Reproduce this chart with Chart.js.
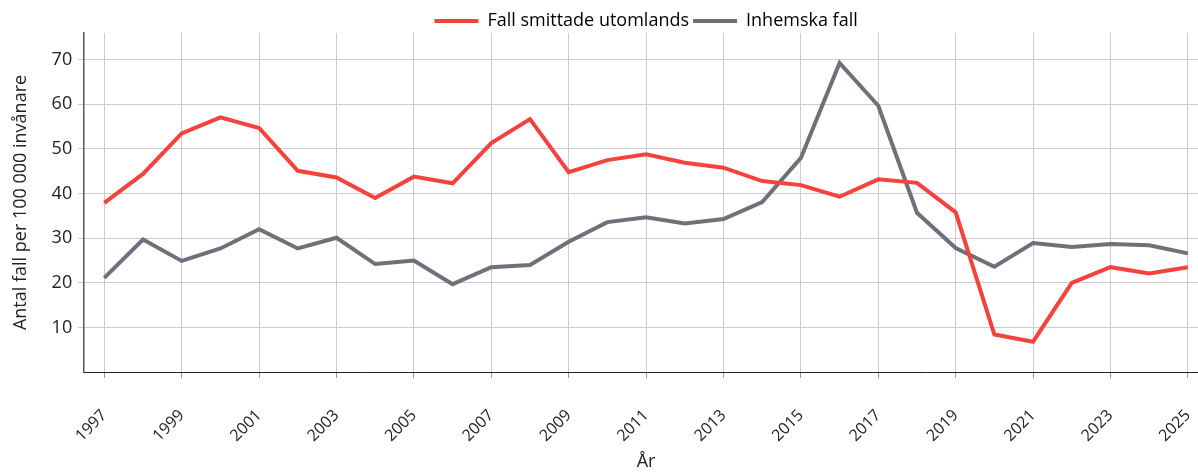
<!DOCTYPE html>
<html>
<head>
<meta charset="utf-8">
<script src="https://cdn.jsdelivr.net/npm/chart.js@4"></script>
<style>
  html, body { margin: 0; padding: 0; background: #fff; overflow: hidden; }
  #wrap { width: 1208px; height: 473px; }
</style>
</head>
<body>
<div id="wrap"><canvas id="chart"></canvas></div>
<script>
// År
const years = [1997, 1998, 1999, 2000, 2001, 2002, 2003, 2004, 2005, 2006,
  2007, 2008, 2009, 2010, 2011, 2012, 2013, 2014, 2015, 2016,
  2017, 2018, 2019, 2020, 2021, 2022, 2023, 2024, 2025];

// Fall smittade utomlands (per 100 000)
const abroadCases = [37.9, 44.4, 53.5, 57.1, 54.7, 45.1, 43.6, 39.0, 43.8, 42.3,
  51.3, 56.7, 44.8, 47.5, 48.8, 46.9, 45.8, 42.8, 41.9, 39.3,
  43.2, 42.4, 35.8, 8.4, 6.8, 20.0, 23.5, 22.1, 23.5];

// Inhemska fall (per 100 000)
const domesticCases = [21.1, 29.7, 24.9, 27.7, 32.0, 27.7, 30.1, 24.2, 25.0, 19.7,
  23.5, 24.0, 29.2, 33.6, 34.7, 33.3, 34.3, 38.1, 48.0, 69.3,
  59.7, 35.7, 27.8, 23.6, 28.9, 28.0, 28.7, 28.4, 26.6];

// Y-axelns tick-värden
const yTicks = [10, 20, 30, 40, 50, 60, 70];
// X-axelns tick-värden (vartannat år)
const xTicks = years.filter(y => y % 2 === 1);

const RED = '#f4433c';
const GRAY = '#6c717a';
const FONT = "'Open Sans', 'Noto Sans', sans-serif";
const FONT_SIZE = 18;

Chart.defaults.font.family = FONT;
Chart.defaults.color = '#222';

function toPoints(values) {
    return years.map((yr, i) => ({ x: yr, y: values[i] }));
}

new Chart(document.getElementById('chart').getContext('2d'), {
    type: 'line',
    data: {
        datasets: [
            {
                label: 'Fall smittade utomlands',
                data: toPoints(abroadCases),
                borderColor: RED,
                backgroundColor: RED,
                borderWidth: 4,
                pointRadius: 0,
                tension: 0
            },
            {
                label: 'Inhemska fall',
                data: toPoints(domesticCases),
                borderColor: GRAY,
                backgroundColor: GRAY,
                borderWidth: 4,
                pointRadius: 0,
                tension: 0
            }
        ]
    },
    options: {
        responsive: true,
        maintainAspectRatio: false,
        animation: false,
        layout: { padding: { left: 10, right: 0, top: 8, bottom: 0 } },
        plugins: {
            legend: {
                display: true,
                position: 'top',
                fullSize: false,
                maxHeight: 25,
                labels: {
                    boxWidth: 44,
                    boxHeight: 4,
                    padding: 4,
                    font: { size: FONT_SIZE },
                    color: '#222',
                    generateLabels: function(chart) {
                        return chart.data.datasets.map((ds, i) => ({
                            text: ds.label,
                            fillStyle: ds.borderColor,
                            strokeStyle: ds.borderColor,
                            lineWidth: 0,
                            datasetIndex: i,
                            hidden: false
                        }));
                    }
                }
            },
            tooltip: { enabled: false }
        },
        scales: {
            x: {
                type: 'linear',
                min: 1996.48,
                max: 2025.52,
                afterBuildTicks: function(axis) {
                    axis.ticks = xTicks.map(v => ({ value: v }));
                },
                // fast höjd på x-axeln och ingen extra marginal till höger
                afterFit: function(axis) {
                    axis.paddingRight = 0;
                    axis.height = 101;
                },
                ticks: {
                    autoSkip: false,
                    minRotation: 45,
                    maxRotation: 45,
                    font: { size: 16 },
                    color: '#222',
                    padding: 28,
                    callback: v => String(v)
                },
                grid: {
                    color: '#cccccc',
                    tickLength: 6,
                    tickColor: '#999'
                },
                border: { color: '#222', width: 1 },
                title: {
                    display: true,
                    text: 'År',
                    font: { size: FONT_SIZE },
                    color: '#222',
                    padding: { top: 0, bottom: 0 }
                }
            },
            y: {
                min: 0,
                max: 76,
                afterBuildTicks: function(axis) {
                    axis.ticks = yTicks.map(v => ({ value: v }));
                },
                ticks: {
                    font: { size: FONT_SIZE },
                    color: '#222',
                    padding: 6
                },
                grid: {
                    color: '#cccccc',
                    tickLength: 6
                },
                border: { color: '#555', width: 1.5 },
                title: {
                    display: true,
                    text: 'Antal fall per 100 000 invånare',
                    font: { size: FONT_SIZE },
                    color: '#222',
                    padding: { top: 0, bottom: 14 }
                }
            }
        }
    }
});
</script>
</body>
</html>
